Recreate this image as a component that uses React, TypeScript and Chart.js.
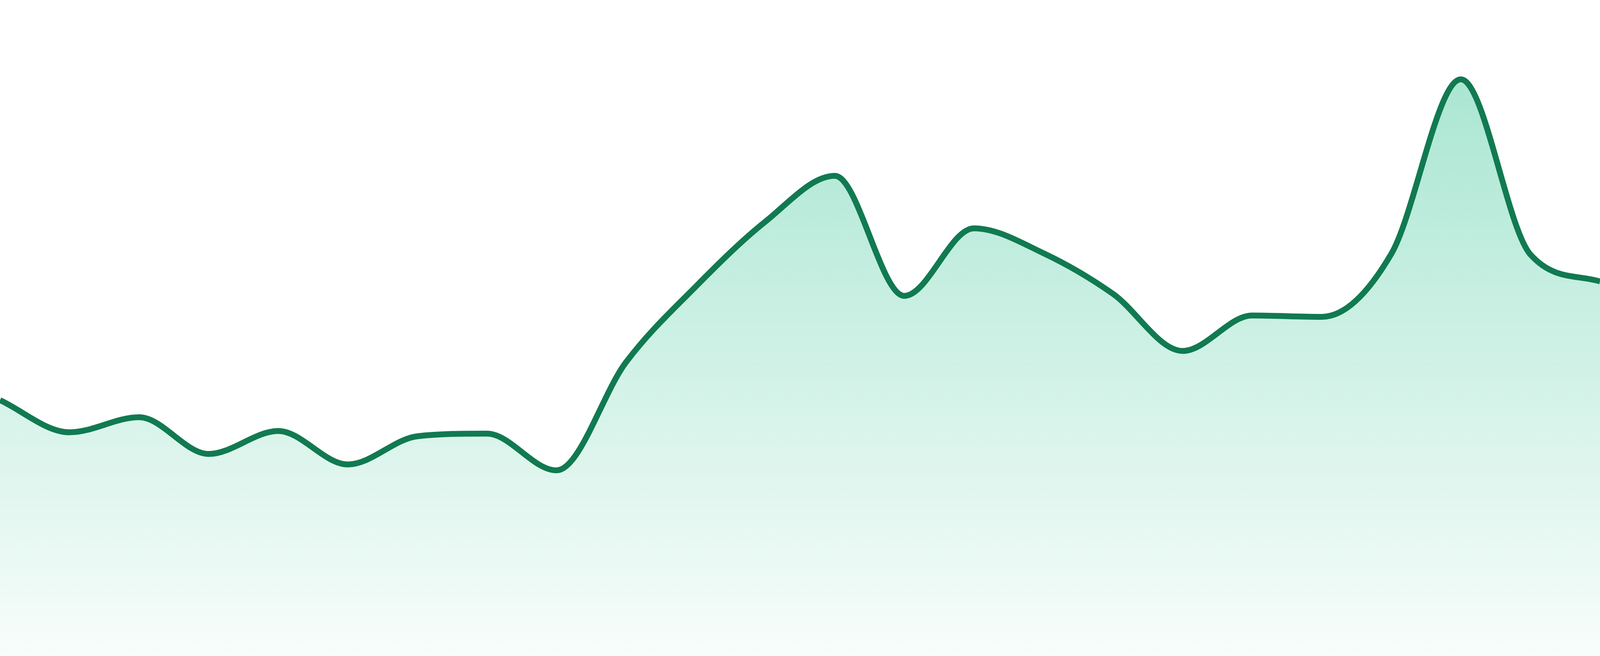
import { useEffect, useRef } from "react";
import { Chart, registerables, ChartConfiguration, ScriptableContext } from "chart.js";

Chart.register(...registerables);

// one value per step (scale 0-100, axes hidden)
const labels = [
  "1", "2", "3", "4", "5", "6", "7", "8", "9", "10", "11", "12",
  "13", "14", "15", "16", "17", "18", "19", "20", "21", "22", "23", "24",
];
const values = [
  39.0, 34.1, 36.4, 30.8, 34.3, 29.2, 33.5, 33.9, 28.3, 44.8, 56.3, 66.2,
  73.2, 54.9, 65.2, 61.4, 55.2, 46.5, 51.9, 51.7, 61.3, 87.9, 61.2, 57.1,
];
const yMin = 0;
const yMax = 100;

const lineColor = "#117a51";

const AreaChart = () => {
  const canvasRef = useRef<HTMLCanvasElement | null>(null);

  useEffect(() => {
    const ctx = canvasRef.current?.getContext("2d");
    if (!ctx) return;

    const config: ChartConfiguration<"line", number[], string> = {
      type: "line",
      data: {
        labels,
        datasets: [
          {
            data: values,
            borderColor: lineColor,
            borderWidth: 15,
            cubicInterpolationMode: "monotone",
            pointRadius: 0,
            pointHoverRadius: 0,
            fill: "origin",
            backgroundColor: (c: ScriptableContext<"line">) => {
              const area = c.chart.chartArea;
              if (!area) return "rgba(16, 185, 129, 0.2)";
              const g = c.chart.ctx.createLinearGradient(0, area.top, 0, area.bottom);
              g.addColorStop(0, "rgba(16, 185, 129, 0.40)");
              g.addColorStop(1, "rgba(16, 185, 129, 0.03)");
              return g;
            },
          },
        ],
      },
      options: {
        animation: false,
        responsive: true,
        maintainAspectRatio: false,
        layout: { padding: 0 },
        plugins: {
          legend: { display: false },
          tooltip: { enabled: false },
        },
        scales: {
          x: { display: false, offset: false },
          y: { display: false, min: yMin, max: yMax },
        },
      },
    };

    const chart = new Chart(ctx, config);
    return () => {
      chart.destroy();
    };
  }, []);

  return (
    <div style={{ position: "fixed", left: 0, top: 0, width: "100vw", height: "100vh", background: "#fff" }}>
      <canvas ref={canvasRef}></canvas>
    </div>
  );
};

export default function App() {
  return <AreaChart />;
}
